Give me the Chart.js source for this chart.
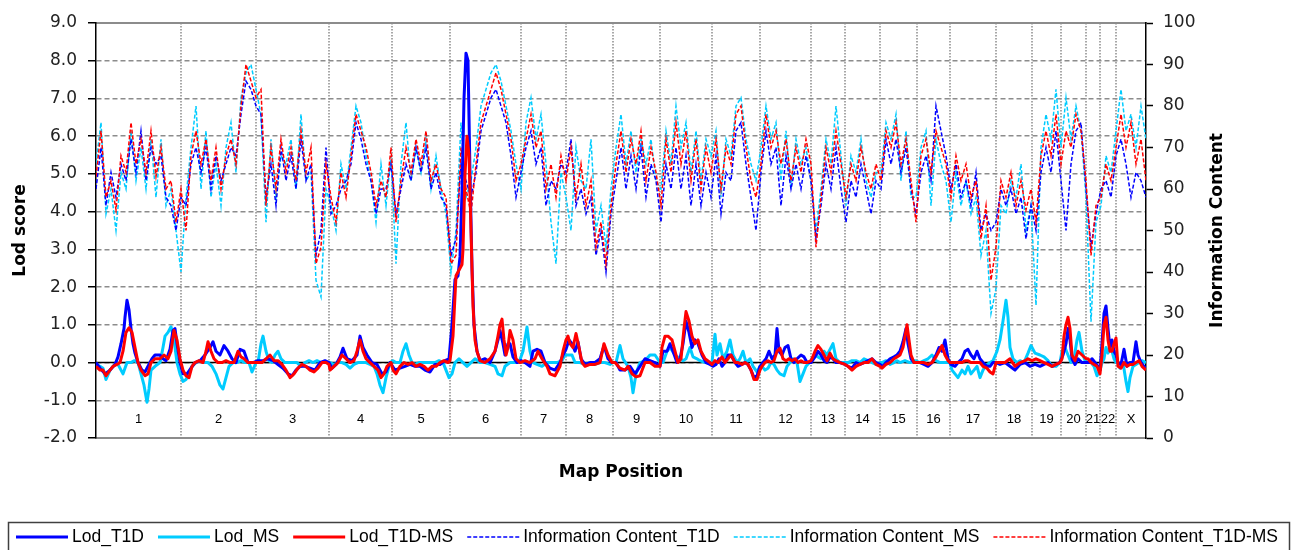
<!DOCTYPE html>
<html><head><meta charset="utf-8">
<script src="https://cdn.jsdelivr.net/npm/chart.js@4.4.0/dist/chart.umd.min.js"></script>
<style>html,body{margin:0;padding:0;background:#fff;overflow:hidden}</style>
</head><body>
<canvas id="c" width="1291" height="550"></canvas>
<script>
// ---------------- DATA ----------------
const chromosomes = ['1','2','3','4','5','6','7','8','9','10','11','12','13','14','15','16','17','18','19','20','21','22','X'];
const chromBounds = [0,85,160,233,296,354,425,470,517,564,616,664,715,749,784,821,854,900,936,965,990,1004,1020,1050];
const lodTicks = [-2,-1,0,1,2,3,4,5,6,7,8,9];
const icTicks = [0,10,20,30,40,50,60,70,80,90,100];

// LOD scores: [map position, LOD]
const lodT1D = [[0,0],[4,-0.15],[9,-0.3],[14,-0.2],[19,-0.05],[22,0.15],[25,0.5],[28,0.9],[29,1.2],[31,1.65],[33,1.4],[35,0.9],[37,0.5],[39,0.25],[42,0],[46,-0.2],[49,-0.25],[52,-0.1],[56,0.1],[59,0.2],[64,0.2],[67,0.1],[70,0.05],[74,0.35],[77,0.85],[79,0.9],[81,0.5],[84,0],[87,-0.3],
[91,-0.3],[95,-0.15],[99,0],[104,0.05],[109,0.2],[114,0.4],[117,0.55],[120,0.3],[124,0.2],[128,0.45],[132,0.3],[136,0.1],[140,0],[144,0.35],[148,0.3],[152,0],[157,0],
[162,0.05],[167,0.05],[172,0.1],[177,0.05],[182,-0.05],[187,-0.15],[192,-0.3],[196,-0.35],[200,-0.2],[204,-0.1],[209,-0.1],[214,-0.15],[219,-0.2],[224,0],[229,0.05],[233,0],
[236,-0.15],[240,-0.05],[244,0.15],[247,0.38],[251,0.1],[256,0.05],[261,0.2],[264,0.7],[267,0.4],[271,0.2],[276,0],[281,-0.05],[286,-0.3],[290,-0.25],[294,0],
[299,-0.2],[304,-0.15],[309,-0.1],[314,-0.05],[319,-0.1],[324,-0.1],[329,-0.2],[334,-0.25],[339,-0.05],[344,-0.05],[349,0.05],[353,0.1],
[356,1.0],[359,2.2],[362,2.3],[364,2.8],[366,4.5],[368,7.0],[370,8.2],[372,8.0],[374,5.0],[376,2.5],[378,1.0],[381,0.3],[384,0.05],[389,0.1],[394,0],[399,0.3],[402,0.6],[404,0.85],[407,0.5],[409,0.2],[412,0.5],[414,0.5],[417,0.15],[421,0],[425,0.05],
[429,0],[434,-0.1],[437,0.3],[441,0.35],[445,0.3],[449,0],[454,-0.15],[459,-0.2],[464,0],[467,0.2],[470,0.35],
[473,0.6],[476,0.5],[479,0.3],[482,0.55],[485,0.1],[489,-0.05],[494,0],[499,0],[504,0.1],[508,0.45],[512,0.1],[516,0],
[520,0],[524,-0.2],[529,-0.2],[534,-0.1],[539,-0.3],[544,-0.1],[549,0.1],[554,0.05],[559,0],[564,-0.1],
[567,0.3],[571,0.3],[574,0.5],[577,0.3],[581,0],[584,0.1],[587,0.5],[590,1.1],[593,0.8],[596,0.4],[599,0.6],[602,0.5],[606,0.2],[610,0],[614,-0.05],
[617,-0.1],[620,-0.05],[623,0.1],[626,-0.1],[629,0],[632,0.2],[635,0.2],[639,0],[642,-0.1],[646,-0.05],[649,0],[652,-0.05],[655,-0.2],[658,-0.4],[661,-0.35],[664,-0.1],
[667,0],[670,0.1],[673,0.3],[676,0.1],[679,0.2],[681,0.9],[683,0.3],[686,0.2],[689,0.4],[692,0.45],[695,0.1],[698,0],[701,0.1],[705,0.2],[708,0.15],[711,0],[715,0],
[719,0.15],[722,0.3],[725,0.2],[728,0.05],[731,0],[734,0.15],[737,0.1],[740,0],[744,0],[749,-0.05],
[752,-0.1],[756,-0.15],[760,0],[764,-0.05],[768,0],[772,0.05],[776,0.1],[780,0],[784,-0.05],
[787,-0.1],[790,0],[794,0.1],[798,0.15],[801,0.2],[804,0.3],[807,0.55],[810,0.9],[812,0.5],[815,0.1],[818,0],[821,0],
[824,0],[828,-0.05],[832,-0.1],[836,0],[840,0.2],[843,0.4],[846,0.3],[849,0.6],[852,0.1],[855,-0.05],
[859,-0.1],[862,0],[866,0.1],[869,0.3],[872,0.35],[875,0.2],[878,0.1],[881,0.3],[884,0.1],[887,0],[891,-0.1],[894,-0.1],[897,0],[900,0],
[904,-0.05],[909,0],[914,-0.1],[919,-0.2],[924,-0.05],[929,0],[934,-0.1],
[939,-0.05],[944,-0.1],[948,-0.05],[952,0],[956,-0.1],[960,-0.05],[964,0],
[967,0.2],[970,0.5],[972,0.9],[974,0.6],[976,0.1],[979,-0.05],[982,0.1],[986,0],[990,0],
[993,0],[996,0.1],[999,0],[1002,-0.1],[1004,-0.2],
[1006,0.5],[1008,1.3],[1010,1.5],[1012,0.9],[1014,0.4],[1016,0.6],[1018,0.3],[1020,0.2],
[1022,0],[1025,-0.05],[1028,0.35],[1031,-0.1],[1034,0],[1037,0],[1040,0.55],[1042,0.2],[1045,0],[1048,-0.1],[1050,-0.15]];

const lodMS = [[0,-0.05],[4,-0.1],[7,-0.15],[10,-0.45],[14,-0.2],[17,-0.1],[21,0],[25,-0.2],[27,-0.3],[31,0],[35,0],[38,0.05],[42,0],[45,-0.3],[48,-0.6],[51,-1.05],[53,-0.7],[55,-0.2],[59,-0.1],[64,0],[67,0.4],[69,0.7],[72,0.8],[75,0.95],[78,0.6],[81,0],[84,-0.3],[87,-0.5],
[90,-0.45],[93,-0.3],[96,-0.1],[100,0],[104,0.05],[108,0],[112,0],[116,-0.1],[120,-0.3],[124,-0.6],[127,-0.7],[130,-0.4],[133,-0.1],[137,0],[141,0],[145,0.05],[149,0],[153,0],[156,-0.25],[160,0],
[162,0],[165,0.5],[167,0.7],[170,0.3],[173,0.05],[176,0],[179,0.2],[182,0.3],[185,0.1],[189,0],[193,0],[197,0],[201,0],[205,-0.1],[209,0],[213,0.05],[217,0],[221,0.05],[225,0],[229,0],[233,0],
[234,0],[238,-0.05],[242,0],[246,0],[250,-0.05],[254,-0.15],[258,-0.05],[262,0],[266,0],[270,0],[274,-0.05],[278,-0.1],[281,-0.3],[284,-0.6],[287,-0.8],[290,-0.4],[294,0],
[297,0.05],[300,0],[304,0],[307,0.3],[310,0.5],[313,0.2],[316,0],[319,-0.05],[323,0],[327,0],[331,0],[335,0],[339,0],[343,0.05],[347,0],[350,-0.2],[353,-0.4],
[356,-0.3],[359,0],[363,0.1],[367,0],[371,-0.1],[375,0],[379,0.1],[384,0],[389,0],[394,-0.05],[399,-0.1],[402,-0.3],[406,-0.35],[409,-0.1],[414,0],[419,0],[423,0],
[427,0.3],[431,0.94],[434,0.3],[437,0],[441,-0.05],[446,-0.1],[451,0],[456,0],[461,0],[466,0.05],[469,0.2],
[472,0.2],[476,0.2],[479,0],[484,0],[489,-0.05],[494,0],[499,-0.05],[504,0],[509,0],[514,-0.05],[517,0],
[520,0],[524,0.45],[527,0.1],[532,-0.1],[535,-0.4],[537,-0.8],[540,-0.3],[544,0],[549,0.05],[554,0.2],[559,0.2],[564,0],
[567,0],[571,0.3],[574,0.4],[579,0.2],[584,0.1],[587,0.05],[590,0.1],[594,0.4],[597,0.15],[601,0.1],[604,0.05],[609,0],[614,0],
[616,0],[619,0.75],[621,0.2],[624,0.5],[627,0.1],[631,0.3],[634,0.6],[637,0.2],[641,0],[644,0.1],[647,0.3],[650,0],[654,0.1],[657,-0.1],[661,-0.25],[664,-0.1],
[666,-0.1],[669,-0.2],[672,-0.15],[675,0],[678,-0.05],[681,-0.2],[684,-0.3],[688,-0.35],[691,-0.1],[694,0],[697,0.1],[701,0],[704,-0.5],[707,-0.3],[710,-0.1],[715,0.05],
[716,0.1],[719,0.2],[722,0.15],[725,0.1],[728,0.3],[731,0.2],[734,0.35],[737,0.5],[740,0.1],[744,0],[749,0],
[752,0],[756,0.05],[760,0.05],[764,0],[768,0.1],[772,0.05],[776,0],[780,-0.05],[784,0],
[786,0],[790,0.05],[794,-0.05],[798,0],[801,0.05],[804,0],[809,0.05],[814,0],[819,0.05],
[824,0],[828,0.05],[832,0.1],[836,0.2],[840,0.05],[844,0],[849,0],[854,0],
[856,-0.2],[859,-0.3],[862,-0.4],[866,-0.2],[869,-0.3],[872,-0.1],[875,-0.3],[878,-0.2],[881,-0.1],[884,-0.4],[887,-0.2],[891,-0.05],[894,0],[897,0.05],
[901,0.3],[904,0.6],[907,1.1],[910,1.65],[912,1.2],[914,0.4],[917,0.1],[921,0],[924,0.05],[928,0],[932,0.25],[935,0.45],
[939,0.25],[944,0.2],[948,0.15],[952,0.05],[956,-0.1],[960,-0.1],[964,0],
[966,0.3],[969,0.4],[972,0.2],[975,0],[978,0.1],[981,0.6],[983,0.8],[986,0.3],[989,0.05],
[992,0],[995,0],[998,-0.1],[1001,-0.35],[1004,-0.2],
[1006,0],[1008,0.1],[1010,0.4],[1012,0.25],[1014,0.4],[1016,0.3],[1018,0.1],[1020,0],
[1022,0],[1024,-0.15],[1027,0],[1030,-0.5],[1032,-0.77],[1034,-0.4],[1037,-0.1],[1040,-0.05],[1043,0],[1046,0.05],[1050,0]];

const lodT1DMS = [[0,-0.1],[4,-0.2],[7,-0.2],[10,-0.35],[14,-0.2],[17,-0.1],[21,-0.05],[24,0],[27,0.3],[30,0.8],[33,0.92],[36,0.8],[39,0.4],[42,0],[45,-0.2],[49,-0.35],[52,-0.3],[55,0],[59,0.1],[64,0.1],[68,0.2],[72,0.1],[75,0.3],[78,0.85],[81,0.6],[84,0.1],[87,-0.2],[90,-0.35],
[93,-0.4],[96,-0.1],[99,0],[103,0.05],[107,0],[110,0.3],[112,0.55],[115,0.3],[118,0.1],[122,0],[126,0],[130,0.05],[134,0],[138,0],[142,0.3],[145,0.15],[148,0.1],[152,0],[156,0],[160,0],
[162,0],[166,0],[170,0.1],[174,0.2],[178,0.05],[182,0.05],[186,-0.05],[190,-0.2],[194,-0.4],[198,-0.3],[202,-0.15],[206,-0.05],[210,-0.1],[214,-0.2],[218,-0.25],[222,-0.15],[226,0],[230,0],[233,-0.05],
[234,-0.2],[238,-0.1],[242,0],[246,0.2],[250,0.1],[254,0],[258,0.05],[261,0.3],[264,0.6],[267,0.3],[270,0.1],[274,0],[278,-0.1],[282,-0.2],[285,-0.4],[288,-0.3],[291,-0.1],[295,0],
[297,-0.2],[300,-0.3],[304,-0.1],[308,0],[312,-0.05],[316,0],[320,-0.1],[324,-0.05],[328,-0.1],[332,-0.2],[336,-0.1],[340,-0.1],[344,0],[348,0.05],[352,0],[354,0.05],
[357,0.7],[360,2.3],[362,2.4],[366,2.6],[367,3.0],[369,5.0],[371,6.0],[373,5.5],[375,3.5],[377,1.5],[379,0.6],[381,0.3],[384,0.05],[389,0],[394,0.1],[399,0.3],[402,0.7],[404,1.0],[406,1.15],[408,0.6],[410,0.2],[412,0.4],[414,0.85],[417,0.6],[420,0.1],[424,0],
[429,0.05],[434,0],[439,0.1],[442,0.3],[446,0.1],[451,-0.1],[454,-0.3],[459,-0.35],[464,-0.1],[467,0.3],[470,0.6],
[472,0.7],[474,0.5],[477,0.4],[480,0.77],[483,0.4],[486,0],[489,-0.1],[494,-0.05],[499,-0.05],[504,0],[508,0.5],[512,0.2],[516,0],
[519,0],[524,-0.15],[529,-0.2],[532,-0.1],[536,-0.3],[540,-0.38],[544,-0.35],[549,0],[554,0],[559,-0.1],[564,-0.1],
[566,0.4],[569,0.7],[572,0.7],[576,0.6],[579,0.3],[582,0],[585,0.1],[588,0.9],[590,1.35],[593,1.1],[596,0.7],[599,0.5],[602,0.6],[605,0.3],[609,0.1],[614,0],
[616,-0.05],[619,0.05],[622,0],[626,0.15],[629,0],[632,0.1],[635,0.2],[639,0],[642,0],[646,-0.05],[649,0],[652,-0.05],[655,-0.2],[658,-0.45],[661,-0.45],[664,-0.2],
[666,-0.1],[669,0],[672,0.05],[675,0],[678,0.05],[681,0.3],[684,0.38],[687,0.1],[690,0.05],[693,0.1],[696,0.05],[699,0.1],[702,0],[705,0.05],[708,0],[711,0],[715,0.05],
[716,0.1],[719,0.3],[722,0.45],[725,0.35],[728,0.2],[731,0.05],[734,0.25],[737,0.1],[740,0.05],[744,0],[749,-0.05],
[752,-0.1],[756,-0.2],[760,-0.1],[764,-0.05],[768,0],[772,0],[776,0.1],[780,-0.05],[784,-0.1],
[786,-0.15],[790,-0.05],[794,0],[798,0.1],[801,0.15],[804,0.2],[807,0.4],[809,0.7],[811,1.0],[813,0.6],[815,0.2],[818,0],[821,0],
[824,0],[828,0],[832,-0.05],[836,0],[840,0.15],[843,0.3],[846,0.45],[849,0.2],[852,0.05],[854,0],
[856,0],[862,0],[866,0],[869,0.05],[872,0.05],[875,0],[878,0],[881,0],[884,0],[887,-0.1],[891,-0.15],[894,-0.25],[897,-0.3],[900,0],
[904,0],[909,0],[914,0.1],[919,-0.1],[924,0],[929,0.05],[932,0.1],[936,0.05],
[940,0.1],[944,0.05],[948,0],[952,-0.05],[956,-0.1],[960,-0.05],[964,0],
[966,0.1],[968,0.7],[970,1.0],[972,1.2],[974,0.9],[976,0.2],[979,0.05],[982,0.3],[986,0.2],[990,0.1],
[992,0.1],[995,0],[998,-0.05],[1001,-0.1],[1004,-0.3],
[1006,0.2],[1008,1.0],[1010,1.2],[1012,0.6],[1014,0.3],[1016,0.3],[1018,0.5],[1020,0.65],
[1022,-0.1],[1025,-0.15],[1028,0],[1031,-0.1],[1034,-0.05],[1037,-0.05],[1040,0],[1043,0.05],[1046,-0.1],[1050,-0.2]];

// Information content (%), common map positions
const icPos = [0,5,10,15,20,25,30,35,40,45,50,55,60,65,70,75,80,85,90,95,
100,105,110,115,120,125,130,135,140,145,150,155,160,165,170,175,180,185,190,195,
200,205,210,215,220,225,230,235,240,245,250,255,260,265,270,275,280,285,290,295,
300,305,310,315,320,325,330,335,340,345,350,355,360,365,370,375,380,385,390,395,
400,405,410,415,420,425,430,435,440,445,450,455,460,465,470,475,480,485,490,495,
500,505,510,515,520,525,530,535,540,545,550,555,560,565,570,575,580,585,590,595,
600,605,610,615,620,625,630,635,640,645,650,655,660,665,670,675,680,685,690,695,
700,705,710,715,720,725,730,735,740,745,750,755,760,765,770,775,780,785,790,795,
800,805,810,815,820,825,830,835,840,845,850,855,860,865,870,875,880,885,890,895,
900,905,910,915,920,925,930,935,940,945,950,955,960,965,970,975,980,985,990,995,
1000,1005,1010,1015,1020,1025,1030,1035,1040,1045,1050];

const icT1D = [60,70,56,64,58,66,62,72,64,74, 62,70,66,68,58,56,50,58,56,66,
70,64,70,60,68,62,66,70,68,78, 86,84,80,78,58,66,56,70,62,68,
60,72,62,66,44,50,70,54,56,60, 62,66,76,72,66,62,54,60,60,66,
54,60,66,62,70,64,70,60,64,58, 56,44,48,66,62,58,64,74,78,82,
84,80,76,68,58,64,70,74,66,70, 56,62,60,66,64,72,56,60,54,58,
44,50,40,54,62,70,60,68,60,70, 58,66,62,52,66,60,70,60,68,56,
66,56,64,58,68,54,64,62,74,76, 66,58,50,64,74,66,70,56,68,60,
66,60,68,62,48,56,66,60,70,60, 52,62,58,66,60,54,62,60,72,66,
72,64,70,60,54,64,68,62,80,74, 68,60,66,58,62,56,64,50,54,50,
52,60,56,60,54,58,48,56,50,64, 70,64,74,62,50,66,74,76,60,46,
54,60,62,58,68,72,66,58,64,62, 58];

const icMS = [66,76,54,60,50,64,60,74,62,70, 60,72,58,72,56,60,50,40,58,70,
80,60,74,58,66,56,70,76,64,82, 88,90,84,78,52,72,58,68,66,72,
60,78,62,64,38,34,60,56,50,66, 60,70,80,76,68,62,52,66,56,68,
42,66,76,62,70,64,72,60,68,60, 54,40,50,76,58,62,70,80,84,88,
90,86,80,74,66,60,76,82,72,78, 66,52,42,64,58,50,70,62,60,72,
50,56,46,60,70,78,66,74,64,72, 66,72,62,60,74,66,80,70,76,64,
74,62,72,68,74,58,72,68,80,82, 72,66,62,70,80,72,76,62,74,60,
72,66,70,62,50,60,72,66,80,68, 56,68,64,72,62,58,64,64,76,72,
78,62,74,58,58,70,74,56,72,66, 62,52,64,56,62,54,58,44,50,30,
36,56,54,62,58,66,50,56,32,70, 78,72,84,70,82,72,80,74,58,28,
52,56,68,64,74,84,74,78,70,80, 72];

const icT1DMS = [63,74,58,62,55,68,64,76,66,72, 64,74,63,70,60,62,52,60,50,68,
74,66,72,62,70,60,68,72,66,80, 90,86,82,84,56,70,60,72,64,70,
62,74,64,70,42,46,66,58,52,64, 58,68,78,74,70,64,56,62,58,70,
52,62,70,64,72,66,74,62,66,60, 58,42,44,70,60,54,66,76,80,84,
88,84,78,72,62,66,72,78,70,74, 60,66,58,68,62,70,58,66,56,62,
46,52,42,56,66,74,64,72,66,74, 62,70,64,56,72,64,76,66,74,62,
72,60,70,64,72,60,70,66,78,80, 70,62,58,66,78,70,74,66,72,62,
70,64,72,66,46,58,70,64,74,66, 58,66,62,70,64,60,66,62,74,70,
76,66,72,62,52,68,72,64,74,70, 66,58,68,62,66,58,62,48,56,38,
46,62,58,64,56,62,55,60,52,68, 74,68,78,66,74,70,78,74,62,44,
56,58,66,62,70,78,70,76,66,72, 62];

const zeroLine = [[0,0],[1050,0]];

// ---------------- CHART ----------------
const FONT = '"DejaVu Sans", "Liberation Sans", Arial, sans-serif';
const NARROW = '"Liberation Sans Narrow", "Arial Narrow", "Liberation Sans", Arial, sans-serif';
const LEGEND_FONT = '17.5px "Liberation Sans", Arial, sans-serif';
const PLOT_BOTTOM = 438;
const PAD_BOTTOM = 28;

const icLine = (label, vals, color, order) => ({
  label, data: icPos.map((x, i) => [x, vals[i]]), yAxisID: 'y2', xAxisID: 'x',
  borderColor: color, backgroundColor: color, borderWidth: 1.5, borderDash: [4, 2],
  pointRadius: 0, tension: 0, order
});
const lodLine = (label, data, color, order) => ({
  label, data, yAxisID: 'y', xAxisID: 'x',
  borderColor: color, backgroundColor: color, borderWidth: 3, borderJoinStyle: 'round',
  pointRadius: 0, tension: 0, order
});

const decorPlugin = {
  id: 'decor',
  afterDraw(chart) {
    const ctx = chart.ctx;
    const xs = chart.scales.x, ys = chart.scales.y, y2 = chart.scales.y2;
    ctx.save();
    // chromosome labels
    ctx.font = '13px ' + NARROW;
    ctx.fillStyle = '#000';
    ctx.textAlign = 'center';
    ctx.textBaseline = 'middle';
    const ly = ys.getPixelForValue(-1.5);
    for (let i = 0; i < chromosomes.length; i++) {
      const mid = (chromBounds[i] + chromBounds[i + 1]) / 2;
      ctx.fillText(chromosomes[i], xs.getPixelForValue(mid), ly);
    }
    // right axis title, reading upwards
    ctx.font = 'bold 17px ' + FONT;
    ctx.translate(y2.right - 73, (chart.chartArea.top + chart.chartArea.bottom) / 2);
    ctx.rotate(-Math.PI / 2);
    ctx.fillText('Information Content', 0, 0);
    ctx.restore();

    // legend (frame + items, styles taken from the datasets)
    const top = chart.height - PAD_BOTTOM;
    ctx.save();
    ctx.strokeStyle = '#404040';
    ctx.lineWidth = 1.5;
    ctx.strokeRect(8.5, top + 0.5, chart.width - 10, 60);
    ctx.font = LEGEND_FONT;
    ctx.textBaseline = 'middle';
    ctx.textAlign = 'left';
    const cy = top + 15;
    let x = 16;
    chart.data.datasets.slice(0, 6).forEach((ds) => {
      ctx.save();
      ctx.strokeStyle = ds.borderColor;
      ctx.lineWidth = ds.borderWidth;
      ctx.setLineDash(ds.borderDash || []);
      ctx.beginPath();
      ctx.moveTo(x, cy);
      ctx.lineTo(x + 52, cy);
      ctx.stroke();
      ctx.restore();
      ctx.fillStyle = '#000';
      ctx.fillText(ds.label, x + 56, cy);
      x += 56 + ctx.measureText(ds.label).width + 14;
    });
    ctx.restore();
  }
};

new Chart(document.getElementById('c'), {
  type: 'line',
  data: {
    datasets: [
      lodLine('Lod_T1D', lodT1D, '#0000ff', 2),
      lodLine('Lod_MS', lodMS, '#00ccff', 3),
      lodLine('Lod_T1D-MS', lodT1DMS, '#ff0000', 1),
      icLine('Information Content_T1D', icT1D, '#0000ff', 6),
      icLine('Information Content_MS', icMS, '#00ccff', 7),
      icLine('Information Content_T1D-MS', icT1DMS, '#ff0000', 5),
      { label: '', data: zeroLine, yAxisID: 'y', xAxisID: 'x', borderColor: '#000', borderWidth: 1.5,
        pointRadius: 0, order: 4 }
    ]
  },
  options: {
    responsive: false,
    animation: false,
    devicePixelRatio: 1,
    layout: { padding: { top: 23, left: 0, right: 0, bottom: PAD_BOTTOM } },
    plugins: {
      tooltip: { enabled: false },
      legend: { display: false }
    },
    scales: {
      x: {
        type: 'linear', position: 'bottom', min: 0, max: 1050,
        afterBuildTicks: (s) => { s.ticks = chromBounds.map(v => ({ value: v })); },
        afterFit: (s) => { s.height = s.chart.height - PAD_BOTTOM - PLOT_BOTTOM; },
        ticks: { display: false },
        grid: {
          drawTicks: false, lineWidth: 2,
          color: (c) => (c.tick && (c.tick.value === 0 || c.tick.value === 1050)) ? 'rgba(0,0,0,0)' : '#a8a8a8'
        },
        border: { display: true, color: '#8c8c8c', width: 2, dash: [1.5, 1.5] },
        title: { display: true, text: 'Map Position', color: '#000',
          font: { family: FONT, size: 17, weight: 'bold' }, padding: { top: 0, bottom: 39 } }
      },
      xTop: {
        type: 'linear', position: 'top', min: 0, max: 1050,
        afterFit: (s) => { s.height = 0; },
        ticks: { display: false },
        grid: { display: false, drawTicks: false },
        border: { display: true, color: '#8c8c8c', width: 2 }
      },
      y: {
        type: 'linear', position: 'left', min: -2, max: 9,
        afterBuildTicks: (s) => { s.ticks = lodTicks.map(v => ({ value: v })); },
        afterFit: (s) => { s.width = 96; },
        ticks: { callback: (v) => Number(v).toFixed(1), color: '#222', padding: 11,
          font: { family: FONT, size: 17 } },
        grid: {
          lineWidth: 1.5, tickLength: 8, tickColor: '#000', tickWidth: 1.5,
          color: (c) => (c.tick && (c.tick.value === 9 || c.tick.value === -2)) ? 'rgba(0,0,0,0)' : '#8c8c8c'
        },
        border: { display: true, color: '#000', width: 1.5, dash: [5, 3] },
        title: { display: true, text: 'Lod score', color: '#000',
          font: { family: FONT, size: 17, weight: 'bold' }, padding: { top: 10, bottom: 0 } }
      },
      y2: {
        type: 'linear', position: 'right', min: 0, max: 100,
        afterBuildTicks: (s) => { s.ticks = icTicks.map(v => ({ value: v })); },
        afterFit: (s) => { s.width = 145; },
        ticks: { color: '#222', padding: 10, font: { family: FONT, size: 17 } },
        grid: { drawOnChartArea: false, tickLength: 7, tickColor: '#000', tickWidth: 1.5 },
        border: { display: true, color: '#000', width: 1.5 }
      }
    }
  },
  plugins: [decorPlugin]
});
</script>
</body></html>
